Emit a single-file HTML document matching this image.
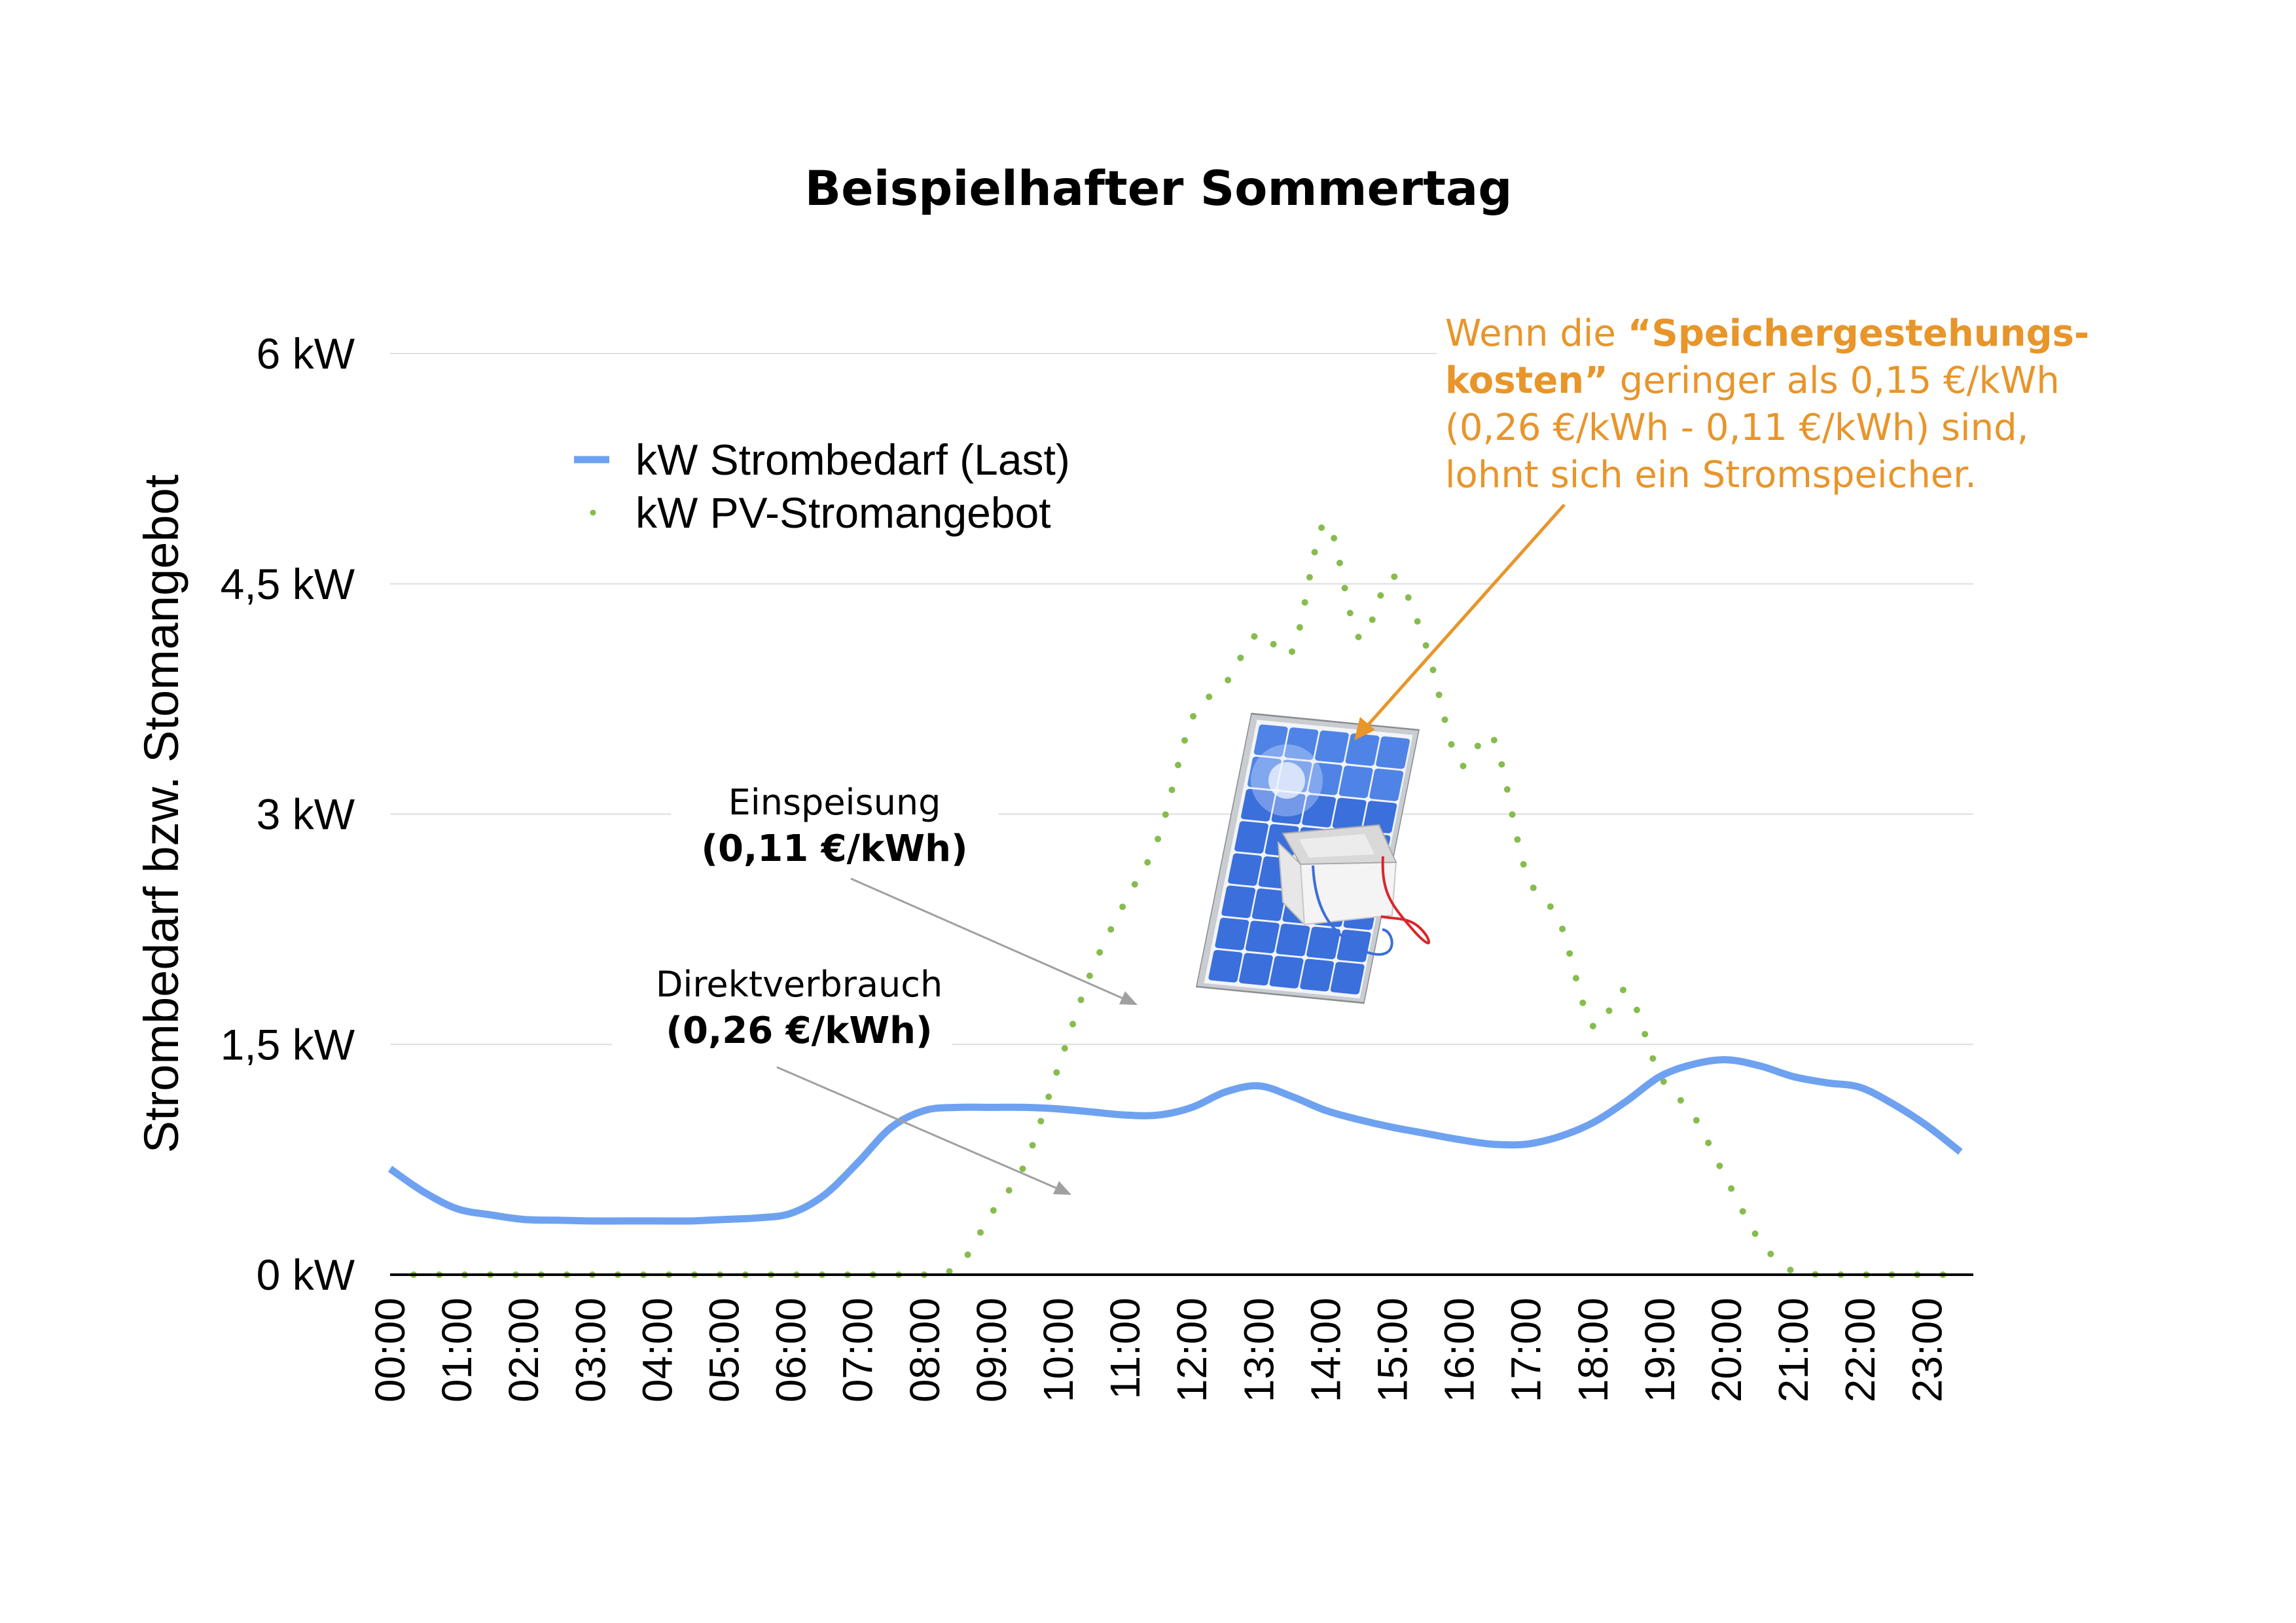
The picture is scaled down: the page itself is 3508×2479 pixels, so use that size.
<!DOCTYPE html>
<html><head><meta charset="utf-8"><style>
html,body{margin:0;padding:0;background:#fff;}
svg{display:block;}
text{font-family:"Liberation Sans",sans-serif;}
.dv{font-family:"DejaVu Sans","Liberation Sans",sans-serif;}
</style></head><body>
<svg id="chart" width="3508" height="2479" viewBox="0 0 3508 2479" xmlns="http://www.w3.org/2000/svg">
<rect width="3508" height="2479" fill="#fff"/>
<text class="dv" x="1770" y="313" font-size="73" font-weight="bold" text-anchor="middle" fill="#000">Beispielhafter Sommertag</text>
<g id="grid"></g>
<g id="yticks"></g>
<g id="xticks"></g>
<text transform="translate(272,1243) rotate(-90)" font-size="74" text-anchor="middle" fill="#000">Strombedarf bzw. Stomangebot</text>

<g>
  <g transform="matrix(256,25,-84,417,1912,1090)">
    <polygon points="0,0 1,0 1,1 0,1" fill="#c9ccd0" stroke="#8a8d92" stroke-width="0.006"/>
    <polygon points="0.04,0.02 0.97,0.02 0.97,0.985 0.04,0.985" fill="#f2f4f8"/>
    <g id="cells"></g>
  </g>
  <circle cx="1966" cy="1192" r="28" fill="#fff" opacity="0.75"/>
  <circle cx="1966" cy="1192" r="55" fill="#dfe8ff" opacity="0.35"/>
  <polygon points="1953,1287 1987,1320 1993,1412 1960,1378" fill="#e7e7e7" stroke="#bbb" stroke-width="2"/>
  <polygon points="1987,1320 2133,1317 2127,1398 1993,1412" fill="#f4f4f4" stroke="#c8c8c8" stroke-width="2"/>
  <polygon points="1960,1273 2107,1260 2133,1317 1987,1320" fill="#d9d9d9" stroke="#aaa" stroke-width="2"/>
  <polygon points="1985,1282 2085,1274 2100,1305 2000,1310" fill="#ececec"/>
  <path d="M2006,1322 C2010,1400 2040,1430 2090,1455 C2140,1470 2130,1420 2112,1420" fill="none" stroke="#3b6fd6" stroke-width="4"/>
  <path d="M2113,1308 C2110,1360 2125,1380 2150,1410 C2175,1440 2190,1450 2180,1430 C2160,1400 2140,1405 2110,1400" fill="none" stroke="#d9262b" stroke-width="4"/>
</g>

<g id="plot"></g>

<line x1="596" y1="1947" x2="3015" y2="1947" stroke="#000" stroke-width="4"/>

<g>
  <g>
    <line x1="877" y1="702" x2="931" y2="702" stroke="#6ea2f0" stroke-width="11"/>
    <text x="971" y="725" font-size="66" fill="#000">kW Strombedarf (Last)</text>
  </g>
  <g>
    <circle cx="906" cy="783" r="4.5" fill="#86bc4e"/>
    <text x="971" y="806" font-size="66" fill="#000">kW PV-Stromangebot</text>
  </g>
</g>

<g>
  <rect x="1025" y="1170" width="500" height="160" fill="#fff"/>
  <text class="dv" x="1275" y="1244" font-size="54" text-anchor="middle" fill="#000">Einspeisung</text>
  <text class="dv" x="1275" y="1315" font-size="56" font-weight="bold" text-anchor="middle" fill="#000">(0,11 €/kWh)</text>
  <line x1="1300" y1="1342" x2="1718" y2="1526" stroke="#a0a0a0" stroke-width="3"/>
  <polygon points="1738,1535 1710,1534 1719,1514" fill="#a0a0a0"/>
</g>
<g>
  <rect x="935" y="1450" width="520" height="160" fill="#fff"/>
  <text class="dv" x="1221" y="1522" font-size="54" text-anchor="middle" fill="#000">Direktverbrauch</text>
  <text class="dv" x="1221" y="1593" font-size="56" font-weight="bold" text-anchor="middle" fill="#000">(0,26 €/kWh)</text>
  <line x1="1187" y1="1630" x2="1617" y2="1816" stroke="#a0a0a0" stroke-width="3"/>
  <polygon points="1637,1825 1609,1824 1618,1804" fill="#a0a0a0"/>
</g>
<g>
  <rect x="2195" y="460" width="1080" height="300" fill="#fff"/>
  <text class="dv" x="2208" y="528" font-size="56" fill="#e8952a">Wenn die <tspan font-weight="bold">“Speichergestehungs-</tspan></text>
  <text class="dv" x="2208" y="600" font-size="56" fill="#e8952a"><tspan font-weight="bold">kosten”</tspan> geringer als 0,15 €/kWh</text>
  <text class="dv" x="2208" y="672" font-size="56" fill="#e8952a">(0,26 €/kWh - 0,11 €/kWh) sind,</text>
  <text class="dv" x="2208" y="744" font-size="56" fill="#e8952a">lohnt sich ein Stromspeicher.</text>
  <line x1="2390" y1="771" x2="2085" y2="1113" stroke="#e8952a" stroke-width="5"/>
  <polygon points="2069,1131 2078,1095 2101,1115" fill="#e8952a"/>
</g>
</svg>
<script>
var yTicks = [0, 1.5, 3, 4.5, 6];
var yTickLabels = ["0 kW", "1,5 kW", "3 kW", "4,5 kW", "6 kW"];
var hourLabels = ["00:00","01:00","02:00","03:00","04:00","05:00","06:00","07:00","08:00","09:00","10:00","11:00","12:00","13:00","14:00","15:00","16:00","17:00","18:00","19:00","20:00","21:00","22:00","23:00"];
var loadKW = [0.69,0.54,0.43,0.39,0.36,0.355,0.35,0.35,0.35,0.35,0.36,0.37,0.40,0.52,0.73,0.96,1.07,1.09,1.09,1.09,1.08,1.06,1.04,1.04,1.09,1.19,1.23,1.16,1.07,1.01,0.96,0.92,0.88,0.85,0.85,0.90,0.99,1.13,1.29,1.37,1.40,1.36,1.29,1.25,1.22,1.11,0.97,0.80];
var pvKW = [0,0,0,0,0,0,0,0,0,0,0,0,0,0,0,0,0,0.05,0.4,0.72,1.35,1.98,2.43,2.85,3.62,3.85,4.18,4.06,4.9,4.15,4.55,4.1,3.33,3.5,2.62,2.3,1.62,1.85,1.3,1.04,0.62,0.22,0.02,0,0,0,0,0];
var stepHours = 0.5;

var NS = "http://www.w3.org/2000/svg";
var X0 = 596, HOURPX = 102.1, XR = 3015;
var Y0 = 1947, KWPX = 234.5;
function xScale(h){ return X0 + h*HOURPX; }
function yScale(v){ return Y0 - v*KWPX; }
function mk(tag, attrs, parent){ var e=document.createElementNS(NS,tag); for(var k in attrs) e.setAttribute(k, attrs[k]); parent.appendChild(e); return e; }

var grid = document.getElementById('grid');
var yt = document.getElementById('yticks');
yTicks.forEach(function(v,i){
  if (v > 0) {
    var x2 = (v === 6) ? 2195 : XR;
    var gl = mk('line', {x1:X0, x2:x2, y1:yScale(v), y2:yScale(v), stroke:'#dedede', 'stroke-width':2}, grid);
    
    
  }
  var t = mk('text', {x:542, y:yScale(v)+23, 'font-size':66, 'text-anchor':'end', fill:'#000'}, yt);
  t.textContent = yTickLabels[i];
  
  
});

var xt = document.getElementById('xticks');
hourLabels.forEach(function(l,i){
  var x = xScale(i) + 22;
  var t = mk('text', {transform:'translate('+x+',1982) rotate(-90)', 'font-size':64, 'text-anchor':'end', fill:'#000'}, xt);
  t.textContent = l;
  
  
});

var cells = document.getElementById('cells');
for (var r=0;r<8;r++) for (var c=0;c<5;c++){
  var cx0 = 0.06 + c*0.182, cy0 = 0.035 + r*0.118;
  var cell = mk('rect', {x:cx0, y:cy0, width:0.172, height:0.111, rx:0.02, ry:0.01, fill:(r<2?'#4f84e6':'#3a6fdc')}, cells);
  
  
}

function smoothPath(arr, clampZero){
  var pts = arr.map(function(v,i){ return [xScale(i*stepHours), yScale(v)]; });
  var d = 'M' + pts[0][0].toFixed(1) + ',' + pts[0][1].toFixed(1);
  for (var i=0;i<pts.length-1;i++){
    var p0 = pts[Math.max(0,i-1)], p1 = pts[i], p2 = pts[i+1], p3 = pts[Math.min(pts.length-1,i+2)];
    var c1x = p1[0] + (p2[0]-p0[0])/6, c1y = p1[1] + (p2[1]-p0[1])/6;
    var c2x = p2[0] - (p3[0]-p1[0])/6, c2y = p2[1] - (p3[1]-p1[1])/6;
    if (clampZero){ c1y = Math.min(c1y, Y0); c2y = Math.min(c2y, Y0); }
    d += ' C' + c1x.toFixed(1)+','+c1y.toFixed(1)+' '+c2x.toFixed(1)+','+c2y.toFixed(1)+' '+p2[0].toFixed(1)+','+p2[1].toFixed(1);
  }
  return d;
}
var plot = document.getElementById('plot');
var pv = mk('path', {d:smoothPath(pvKW, true), fill:'none', stroke:'#86bc4e', 'stroke-width':10, 'stroke-linecap':'round', 'stroke-linejoin':'round', 'stroke-dasharray':'0 39', 'stroke-dashoffset':'-36'}, plot);


var ld = mk('path', {d:smoothPath(loadKW, false), fill:'none', stroke:'#6ea2f0', 'stroke-width':11, 'stroke-linejoin':'round'}, plot);


</script>
</body></html>
